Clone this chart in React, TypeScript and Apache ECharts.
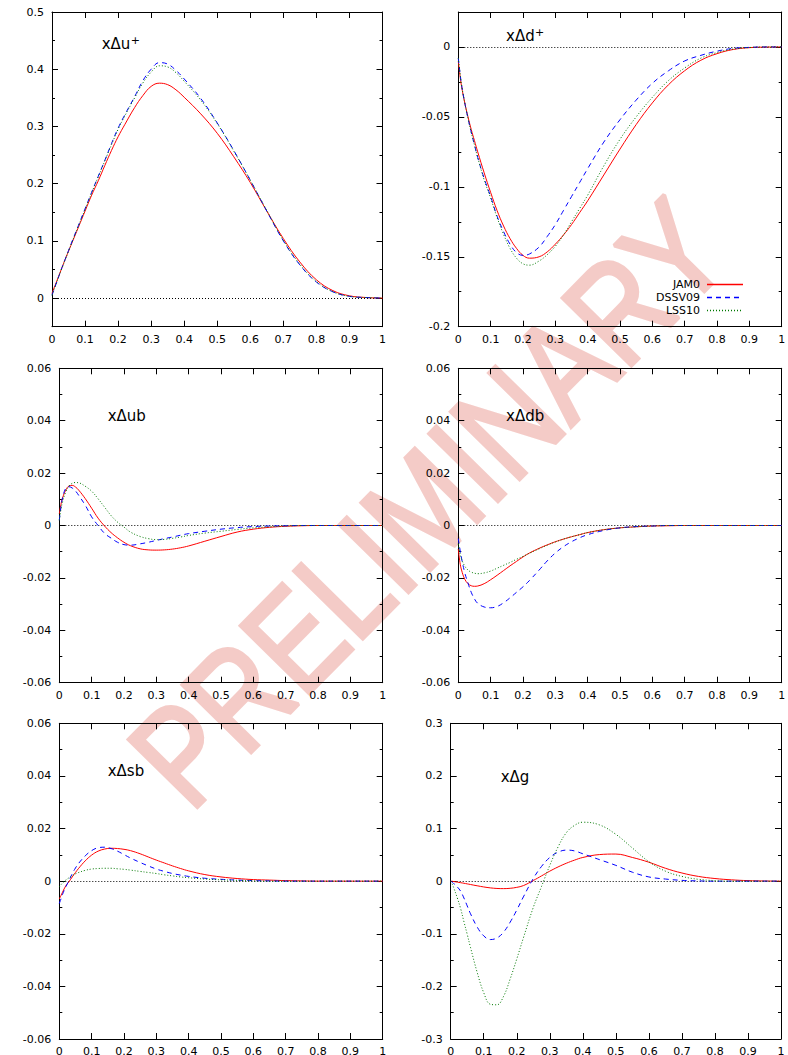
import React, { useEffect, useRef } from 'react';
import * as echarts from 'echarts';

// x grid shared by all curves
const X = [0, 0.005, 0.01, 0.02, 0.03, 0.04, 0.05, 0.06, 0.08, 0.1, 0.12, 0.14, 0.16, 0.18, 0.2, 0.22,
  0.25, 0.275, 0.3, 0.325, 0.35, 0.375, 0.4,
  0.45, 0.5, 0.55, 0.6, 0.65, 0.7, 0.75, 0.8, 0.85, 0.9, 0.95, 1];

const SERIES_NAMES = ['JAM0', 'DSSV09', 'LSS10'];

// xΔu+
const upJAM = [0.008, 0.016, 0.023, 0.038, 0.053, 0.068, 0.082, 0.096, 0.124, 0.152, 0.180, 0.205, 0.232, 0.258, 0.282, 0.303,
  0.333, 0.354, 0.370, 0.3756, 0.373, 0.364, 0.351,
  0.322, 0.288, 0.247, 0.202, 0.152, 0.104, 0.063, 0.032, 0.013, 0.004, 0.001, 0];
const upDSSV = [0.005, 0.013, 0.021, 0.037, 0.053, 0.068, 0.083, 0.098, 0.127, 0.156, 0.185, 0.213, 0.241, 0.270, 0.297, 0.320,
  0.352, 0.380, 0.400, 0.4115, 0.409, 0.398, 0.383,
  0.349, 0.306, 0.258, 0.206, 0.152, 0.100, 0.058, 0.028, 0.011, 0.003, 0.001, 0];
const upLSS = [0.005, 0.013, 0.021, 0.037, 0.052, 0.067, 0.082, 0.097, 0.126, 0.155, 0.184, 0.212, 0.240, 0.268, 0.295, 0.318,
  0.350, 0.376, 0.395, 0.406, 0.404, 0.394, 0.379,
  0.346, 0.305, 0.257, 0.206, 0.153, 0.101, 0.059, 0.029, 0.011, 0.003, 0.001, 0];

// xΔd+
const dpJAM = [-0.010, -0.020, -0.028, -0.040, -0.050, -0.059, -0.067, -0.075, -0.090, -0.104, -0.117, -0.128, -0.137, -0.144, -0.149, -0.151,
  -0.150, -0.1465, -0.141, -0.1345, -0.127, -0.1185, -0.110,
  -0.0915, -0.073, -0.0555, -0.040, -0.027, -0.017, -0.0095, -0.0048, -0.0018, -0.0005, -0.0001, 0];
const dpDSSV = [-0.008, -0.018, -0.027, -0.040, -0.051, -0.061, -0.070, -0.079, -0.094, -0.107, -0.121, -0.132, -0.141, -0.147, -0.149, -0.148,
  -0.143, -0.1355, -0.127, -0.117, -0.107, -0.097, -0.087,
  -0.068, -0.052, -0.038, -0.026, -0.017, -0.010, -0.006, -0.003, -0.001, -0.0003, 0, 0];
const dpLSS = [-0.008, -0.018, -0.027, -0.040, -0.051, -0.061, -0.070, -0.079, -0.095, -0.108, -0.122, -0.134, -0.144, -0.151, -0.155, -0.156,
  -0.153, -0.1485, -0.1425, -0.1345, -0.125, -0.1155, -0.106,
  -0.085, -0.066, -0.050, -0.036, -0.024, -0.015, -0.008, -0.004, -0.0015, -0.0004, 0, 0];

// xΔub
const ubJAM = [0.0045, 0.008, 0.0105, 0.0135, 0.0151, 0.0153, 0.0147, 0.0135, 0.0103, 0.0066, 0.0028, -0.0002, -0.0027, -0.0047, -0.0064, -0.0077,
  -0.0089, -0.0093, -0.0094, -0.0093, -0.009, -0.0085, -0.0078,
  -0.006, -0.0042, -0.0025, -0.0014, -0.0007, -0.0003, -0.0001, 0, 0, 0, 0, 0];
const ubDSSV = [0.002, 0.007, 0.0105, 0.0142, 0.0148, 0.0143, 0.0132, 0.0115, 0.0078, 0.0033, 0, -0.003, -0.0048, -0.0064, -0.0073, -0.0075,
  -0.0070, -0.0064, -0.0057, -0.0050, -0.0044, -0.0037, -0.0031,
  -0.0022, -0.0014, -0.0008, -0.0004, -0.0002, -0.0001, 0, 0, 0, 0, 0, 0];
const ubLSS = [0.002, 0.006, 0.009, 0.0128, 0.015, 0.0161, 0.0164, 0.0163, 0.015, 0.0131, 0.0102, 0.007, 0.0038, 0.0013, -0.0006, -0.0025,
  -0.0042, -0.0050, -0.0054, -0.0053, -0.0049, -0.0044, -0.0038,
  -0.0029, -0.0022, -0.0015, -0.0009, -0.0005, -0.0002, 0, 0, 0, 0, 0, 0];

// xΔdb
const dbJAM = [-0.009, -0.014, -0.017, -0.0205, -0.0222, -0.023, -0.0232, -0.0231, -0.0222, -0.0207, -0.019, -0.0172, -0.0154, -0.0137, -0.012, -0.0105,
  -0.0087, -0.0074, -0.0062, -0.0052, -0.0043, -0.0035, -0.0027,
  -0.0016, -0.0009, -0.0005, -0.0002, -0.0001, 0, 0, 0, 0, 0, 0, 0];
const dbDSSV = [-0.005, -0.009, -0.0125, -0.018, -0.022, -0.0255, -0.028, -0.0297, -0.0311, -0.0314, -0.0309, -0.0295, -0.0276, -0.0255, -0.0234, -0.021,
  -0.017, -0.0135, -0.0105, -0.0081, -0.0062, -0.0047, -0.0035,
  -0.0019, -0.0009, -0.0004, -0.0002, 0, 0, 0, 0, 0, 0, 0, 0];
const dbLSS = [-0.007, -0.0105, -0.0128, -0.0155, -0.017, -0.0178, -0.0182, -0.0184, -0.0181, -0.0174, -0.0163, -0.0152, -0.0141, -0.0129, -0.0118, -0.0106,
  -0.0089, -0.0075, -0.0063, -0.0052, -0.0043, -0.0035, -0.0027,
  -0.0016, -0.0009, -0.0005, -0.0002, 0, 0, 0, 0, 0, 0, 0, 0];

// xΔsb
const sbJAM = [-0.0068, -0.0055, -0.0042, -0.0018, -0.0002, 0.0016, 0.0033, 0.0049, 0.0077, 0.0099, 0.0114, 0.0122, 0.0125, 0.0124, 0.0121, 0.0116,
  0.0104, 0.0092, 0.0080, 0.0069, 0.0058, 0.0048, 0.0039,
  0.0025, 0.0016, 0.0010, 0.0006, 0.0004, 0.0002, 0.0001, 0, 0, 0, 0, 0];
const sbDSSV = [-0.0085, -0.0068, -0.005, -0.0022, 0.0003, 0.0028, 0.005, 0.0068, 0.0096, 0.0116, 0.0127, 0.0129, 0.0124, 0.0114, 0.0101, 0.0088,
  0.0071, 0.0058, 0.0046, 0.0037, 0.0029, 0.0023, 0.0018,
  0.0011, 0.0007, 0.0004, 0.0002, 0.0001, 0, 0, 0, 0, 0, 0, 0];
const sbLSS = [-0.0022, -0.0014, -0.0007, 0.0004, 0.0013, 0.0021, 0.0028, 0.0033, 0.0041, 0.0046, 0.0048, 0.0049, 0.0049, 0.0047, 0.0045, 0.0042,
  0.0037, 0.0033, 0.0029, 0.0024, 0.0020, 0.0016, 0.0013,
  0.0008, 0.0005, 0.0003, 0.0001, 0, 0, 0, 0, 0, 0, 0, 0];

// xΔg
const gJAM = [0, -0.0003, -0.0008, -0.0018, -0.0029, -0.004, -0.0052, -0.0064, -0.0088, -0.011, -0.0128, -0.0139, -0.0142, -0.0136, -0.0118, -0.0085,
  0.0012, 0.010, 0.019, 0.027, 0.034, 0.040, 0.045,
  0.0505, 0.0515, 0.045, 0.036, 0.0245, 0.0155, 0.009, 0.005, 0.0025, 0.001, 0.0003, 0];
const gDSSV = [0, -0.002, -0.005, -0.011, -0.019, -0.032, -0.047, -0.062, -0.087, -0.104, -0.111, -0.108, -0.097, -0.078, -0.055, -0.030,
  0.005, 0.028, 0.045, 0.055, 0.059, 0.0575, 0.052,
  0.041, 0.030, 0.017, 0.008, 0.004, 0.0015, 0.0005, 0, 0, 0, 0, 0];
const gLSS = [0, -0.006, -0.014, -0.032, -0.052, -0.077, -0.101, -0.126, -0.173, -0.212, -0.234, -0.235, -0.219, -0.186, -0.148, -0.108,
  -0.050, -0.010, 0.030, 0.065, 0.092, 0.106, 0.112,
  0.107, 0.089, 0.063, 0.037, 0.019, 0.009, 0.0035, 0.001, 0, 0, 0, 0];

// tick values
const UP_MAJOR = [0, 0.1, 0.2, 0.3, 0.4, 0.5];
const UP_MINOR = [-0.05, 0.05, 0.15, 0.25, 0.35, 0.45];
const DP_MAJOR = [-0.2, -0.15, -0.1, -0.05, 0];
const DP_MINOR = [-0.175, -0.125, -0.075, -0.025, 0.025];
const Q_MAJOR = [-0.06, -0.04, -0.02, 0, 0.02, 0.04, 0.06];
const Q_MINOR = [-0.05, -0.03, -0.01, 0.01, 0.03, 0.05];
const G_MAJOR = [-0.3, -0.2, -0.1, 0, 0.1, 0.2, 0.3];
const G_MINOR = [-0.25, -0.15, -0.05, 0.05, 0.15, 0.25];

const TITLES = ['xΔu', 'xΔd', 'xΔub', 'xΔdb', 'xΔsb', 'xΔg'];
const SUPS = ['+', '+', '', '', '', ''];
const WATERMARK = 'PRELIMINARY';

const FONT = '"DejaVu Sans", sans-serif';
const COLORS = ['#ff0000', '#0000ff', '#007800'];
const DASHES: any[] = ['solid', [5, 4], [1, 2]];

const PANELS = [
  { title: 0, data: [upJAM, upDSSV, upLSS], min: -0.05, max: 0.5, major: UP_MAJOR, minor: UP_MINOR, box: [52, 12, 330.5, 314.7], tpos: [101.7, 44] },
  { title: 1, data: [dpJAM, dpDSSV, dpLSS], min: -0.2, max: 0.025, major: DP_MAJOR, minor: DP_MINOR, box: [458.3, 12, 323.4, 314.7], tpos: [506, 36] },
  { title: 2, data: [ubJAM, ubDSSV, ubLSS], min: -0.06, max: 0.06, major: Q_MAJOR, minor: Q_MINOR, box: [59.3, 368.3, 323.4, 314.4], tpos: [107.7, 416] },
  { title: 3, data: [dbJAM, dbDSSV, dbLSS], min: -0.06, max: 0.06, major: Q_MAJOR, minor: Q_MINOR, box: [458.3, 368.3, 323.4, 314.4], tpos: [506, 416] },
  { title: 4, data: [sbJAM, sbDSSV, sbLSS], min: -0.06, max: 0.06, major: Q_MAJOR, minor: Q_MINOR, box: [59.3, 723.3, 323.4, 315.7], tpos: [107.7, 771] },
  { title: 5, data: [gJAM, gDSSV, gLSS], min: -0.3, max: 0.3, major: G_MAJOR, minor: G_MINOR, box: [450.7, 723.3, 330.3, 315.7], tpos: [500.7, 776.7] },
];

const fmt = (v: number) => String(parseFloat(Number(v).toFixed(4)));

function buildOption() {
  const grid: any[] = [];
  const xAxis: any[] = [];
  const yAxis: any[] = [];
  const series: any[] = [];
  const graphic: any[] = [];

  graphic.push({
    type: 'text',
    x: 428,
    y: 503,
    rotation: 0.794,
    scaleX: 0.82,
    z: -10,
    silent: true,
    style: {
      text: WATERMARK,
      x: 0,
      y: 0,
      font: '140px "Liberation Sans", Arial, sans-serif',
      fill: '#f4cbc7',
      stroke: '#f4cbc7',
      lineWidth: 4,
      align: 'center',
      textAlign: 'center',
      verticalAlign: 'middle',
      textVerticalAlign: 'middle',
    },
  });

  PANELS.forEach((p, gi) => {
    grid.push({ left: p.box[0], top: p.box[1], width: p.box[2], height: p.box[3], containLabel: false, outerBoundsMode: 'none' });
    const xi = xAxis.length;
    ['bottom', 'top'].forEach((pos, k) => {
      xAxis.push({
        type: 'value', gridIndex: gi, position: pos, min: 0, max: 1, interval: 0.1,
        axisLine: { show: true, onZero: false, lineStyle: { color: '#000', width: 1 } },
        axisTick: { show: true, inside: true, length: 6, lineStyle: { color: '#000' } },
        axisLabel: { show: k === 0, margin: 7, fontSize: 11, fontFamily: FONT, color: '#000', formatter: fmt },
        splitLine: { show: false },
      });
    });
    const yi = yAxis.length;
    const mk = (pos: string, vals: number[], len: number, labels: boolean, line: boolean) => ({
      type: 'value', gridIndex: gi, position: pos, min: p.min, max: p.max,
      axisLine: { show: line, onZero: false, lineStyle: { color: '#000', width: 1 } },
      axisTick: { show: true, inside: true, length: len, customValues: vals, lineStyle: { color: '#000' } },
      axisLabel: { show: labels, customValues: vals, margin: 8, fontSize: 11, fontFamily: FONT, color: '#000', formatter: fmt },
      splitLine: { show: false },
    });
    yAxis.push(mk('left', p.major, 6, true, true));
    yAxis.push(mk('left', p.minor, 3, false, false));
    yAxis.push(mk('right', p.major, 6, false, true));
    yAxis.push(mk('right', p.minor, 3, false, false));

    p.data.forEach((vals, si) => {
      const s: any = {
        type: 'line',
        name: SERIES_NAMES[si],
        xAxisIndex: xi,
        yAxisIndex: yi,
        data: X.map((x, i) => [x, vals[i]]),
        showSymbol: false,
        symbol: 'none',
        smooth: 0.4,
        clip: true,
        lineStyle: { color: COLORS[si], width: 1, type: DASHES[si] },
        itemStyle: { color: COLORS[si] },
        z: 3 + si,
      };
      if (si === 0) {
        s.markLine = {
          silent: true,
          symbol: ['none', 'none'],
          label: { show: false },
          lineStyle: { color: '#000', width: 1, type: [1, 2] },
          data: [{ yAxis: 0 }],
          z: 1,
        };
      }
      series.push(s);
    });

    graphic.push({
      type: 'text', x: p.tpos[0], y: p.tpos[1], silent: true,
      style: { text: TITLES[p.title], font: '15px ' + FONT, fill: '#000', align: 'left', textAlign: 'left', verticalAlign: 'middle', textVerticalAlign: 'middle' },
    });
    if (SUPS[p.title]) {
      graphic.push({
        type: 'text', x: p.tpos[0] + 29, y: p.tpos[1] - 3.5, silent: true,
        style: { text: SUPS[p.title], font: '11px ' + FONT, fill: '#000', align: 'left', textAlign: 'left', verticalAlign: 'middle', textVerticalAlign: 'middle' },
      });
    }
  });

  // key (legend) inside the xΔd+ panel
  const legendY = [284.5, 297.5, 310.5];
  SERIES_NAMES.forEach((name, i) => {
    graphic.push({
      type: 'text', x: 700, y: legendY[i], silent: true,
      style: { text: name, font: '11px ' + FONT, fill: '#000', align: 'right', textAlign: 'right', verticalAlign: 'middle', textVerticalAlign: 'middle' },
    });
    graphic.push({
      type: 'line', silent: true,
      shape: { x1: 707, y1: legendY[i], x2: 743, y2: legendY[i] },
      style: { stroke: COLORS[i], lineWidth: 1.4, lineDash: DASHES[i] === 'solid' ? null : DASHES[i] },
    });
  });

  return {
    animation: false,
    backgroundColor: '#ffffff',
    grid,
    xAxis,
    yAxis,
    series,
    graphic,
  };
}

export default function App() {
  const ref = useRef<HTMLDivElement>(null);
  useEffect(() => {
    if (!ref.current) return;
    const chart = echarts.init(ref.current, undefined, { renderer: 'svg' });
    chart.setOption(buildOption() as any);
    return () => chart.dispose();
  }, []);
  return <div ref={ref} style={{ position: 'absolute', left: 0, top: 0, width: 788, height: 1055 }} />;
}
